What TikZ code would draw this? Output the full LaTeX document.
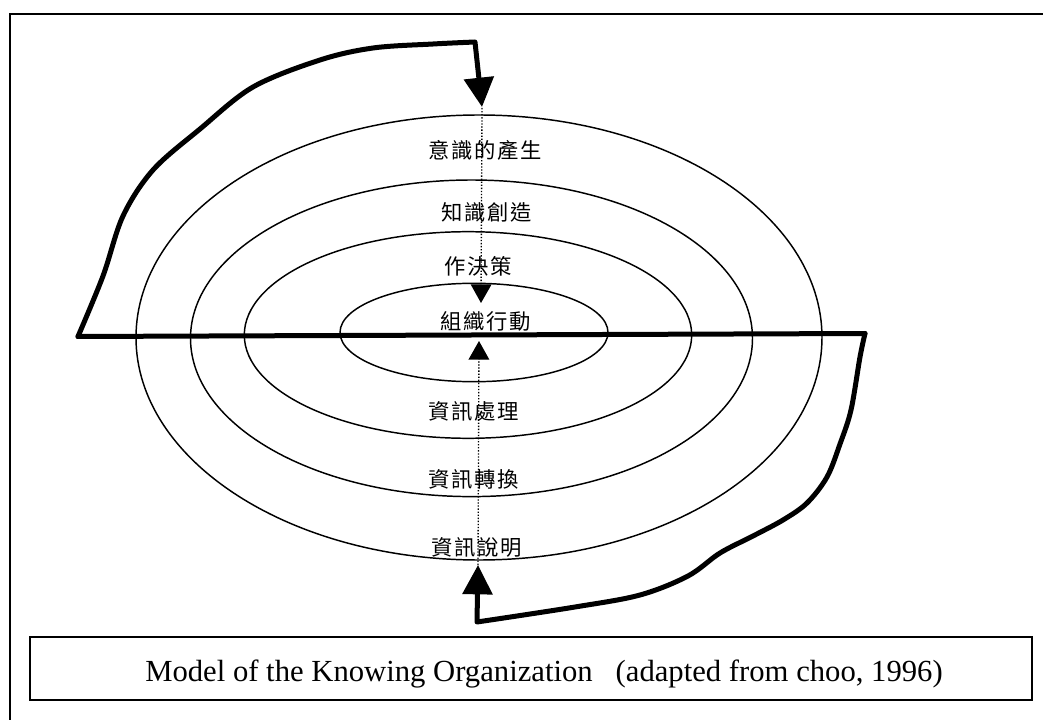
\documentclass[tikz,border=0pt]{standalone}
\usepackage{fontspec}
\setmainfont{Liberation Serif}
\newfontfamily\cjk[LetterSpace=8]{Noto Sans CJK TC}
\usetikzlibrary{arrows.meta}

\begin{document}
\begin{tikzpicture}[x=0.75pt,y=-0.75pt,
  ring/.style={line width=1.1pt},
  heavy/.style={line width=3.75pt, line cap=round, line join=round},
  guide/.style={line width=1pt, dash pattern=on 1pt off 1.3pt},
  layer/.style={font=\cjk\fontsize{16pt}{16pt}\selectfont, inner sep=0pt},
  bigtip/.style={-{Triangle[length=22pt,width=22pt]}},
  smalltip/.style={-{Triangle[length=14pt,width=15.5pt]}},
  frameline/.style={line width=1.2pt},
]
\useasboundingbox (0,0) rectangle (1043,720);

% outer frame (runs off the right and bottom edges)
\draw[frameline] (10,720) -- (10,14) -- (1043,14);

% nested rings
\draw[ring] (479,337.5) ellipse [x radius=343, y radius=222.5];
\draw[ring] (471.5,338.3) ellipse [x radius=281, y radius=158.3];
\draw[ring] (468,335) ellipse [x radius=223.7, y radius=103.3];
\draw[ring] (474,332.5) ellipse [x radius=134, y radius=49.2];

% layer labels
\node[layer] (conscious) at (485,150.5) {意識的產生};
\node[layer] (create)    at (487,212)   {知識創造};
\node[layer] (decide)    at (478,266)   {作決策};
\node[layer] (act)       at (486,321)   {組織行動};
\node[layer] (process)   at (473.5,411.7) {資訊處理};
\node[layer] (transform) at (473.5,479) {資訊轉換};
\node[layer] (interpret) at (477,547)   {資訊說明};

% key points of the feedback loops
\coordinate (barL)    at (78,336.5);
\coordinate (barR)    at (865,333.5);
\coordinate (topBend) at (475,42);
\coordinate (topTip)  at (482,107);
\coordinate (botBend) at (477,622);
\coordinate (botTip)  at (478,565);
\coordinate (topIn)   at (482,108);
\coordinate (midDown) at (481,303);
\coordinate (botIn)   at (478,565);
\coordinate (midUp)   at (479,341);

% dividing bar
\draw[heavy] (barL) -- (barR);

% upper loop into the rings
\draw[heavy, bigtip] plot[smooth, tension=0.55] coordinates {(barL) (103,276) (123,216) (153,170) (200,129) (253,87) (320,60) (373,48) (433,44) (topBend)} -- (topTip);

% lower loop into the rings
\draw[heavy, bigtip] plot[smooth, tension=0.55] coordinates {(barR) (860,357) (851,410) (840,444) (827,477) (807,503) (783,520) (753,536) (720,553) (688,576) (640,595) (575,607) (botBend)} -- (botTip);

% dotted guides towards the centre
\draw[guide, smalltip] (topIn) -- (midDown);
\draw[guide, smalltip] (botIn) -- (midUp);

% caption
\node[draw, line width=1.4pt, minimum width=751.5pt, minimum height=47.25pt, inner sep=0pt] (capbox) at (531,668.5) {};
\node[anchor=base, inner sep=0pt, font=\fontsize{23pt}{23pt}\selectfont] (captext) at (544,681.7) {Model of the Knowing Organization\hspace{0.5em} (adapted from choo, 1996)};
\end{tikzpicture}
\end{document}
